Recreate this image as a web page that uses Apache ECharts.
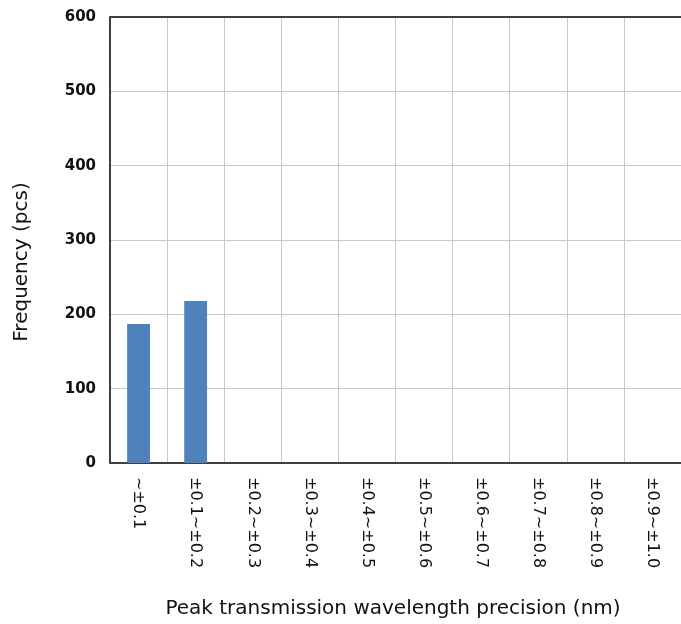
<!DOCTYPE html>
<html><head><meta charset="utf-8">
<script src="https://cdn.jsdelivr.net/npm/echarts@6/dist/echarts.min.js"></script>
<style>html,body{margin:0;padding:0;background:#fff;overflow:hidden}#c{width:681px;height:624px}</style>
</head><body><div id="c"></div>
<script>
const categories = ['∼±0.1','±0.1∼±0.2','±0.2∼±0.3','±0.3∼±0.4','±0.4∼±0.5','±0.5∼±0.6','±0.6∼±0.7','±0.7∼±0.8','±0.8∼±0.9','±0.9∼±1.0'];
const values = [187, 218, 0, 0, 0, 0, 0, 0, 0, 0];
const yTicks = [0, 100, 200, 300, 400, 500, 600];

const chart = echarts.init(document.getElementById('c'));
chart.setOption({
  animation: false,
  grid: { left: 110, right: 0, top: 17, bottom: 161, outerBoundsMode: 'none', containLabel: false },
  xAxis: [{
    type: 'category', data: categories,
    name: 'Peak transmission wavelength precision (nm)', nameLocation: 'middle', nameGap: 136,
    nameTextStyle: { fontFamily: 'DejaVu Sans', fontSize: 20, color: '#111', padding: [0, 0, 0, -5] },
    axisLine: { show: true, lineStyle: { color: '#404040', width: 2 } },
    axisTick: { show: false },
    axisLabel: { rotate: -90, interval: 0, margin: 14, fontFamily: 'DejaVu Sans', fontSize: 16, color: '#111', align: 'left', verticalAlign: 'middle' },
    splitLine: { show: true, interval: 0, lineStyle: { color: '#c8c8c8', width: 1 } }
  }, {
    type: 'category', data: categories, position: 'top',
    axisLine: { show: true, lineStyle: { color: '#404040', width: 2 } },
    axisTick: { show: false }, axisLabel: { show: false }, splitLine: { show: false }
  }],
  yAxis: {
    type: 'value', min: 0, max: 600, interval: 100,
    name: 'Frequency (pcs)', nameLocation: 'middle', nameGap: 78,
    nameTextStyle: { fontFamily: 'DejaVu Sans', fontSize: 20, color: '#111', padding: [0, 44, 0, 0] },
    axisLine: { show: true, lineStyle: { color: '#404040', width: 2 } },
    axisTick: { show: false },
    axisLabel: { margin: 14, fontFamily: 'DejaVu Sans', fontWeight: 'bold', fontSize: 15, color: '#111',
      formatter: v => yTicks.includes(v) ? String(v) : '' },
    splitLine: { show: true, lineStyle: { color: '#c8c8c8', width: 1 } }
  },
  series: [{ type: 'bar', data: values, barWidth: '40%', itemStyle: { color: '#4f81bd' } }]
});
</script></body></html>
